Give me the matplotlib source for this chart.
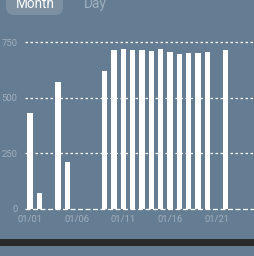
import matplotlib
matplotlib.use("Agg")
import matplotlib.pyplot as plt
from matplotlib.patches import FancyBboxPatch

days = list(range(1, 23))
values = [430, 73, 0, 570, 211, 0, 0, 0, 621, 714, 720, 712, 715, 709, 717, 706, 695, 699, 701, 706, 0, 715]
tick_days = [1, 6, 11, 16, 21]
tick_labels = ["01/01", "01/06", "01/11", "01/16", "01/21"]
y_ticks = [0, 250, 500, 750]

W, H = 255, 256
BG = "#657d92"
fig = plt.figure(figsize=(W / 100, H / 100), dpi=100)
fig.patch.set_facecolor(BG)

# top toggle
bg_ax = fig.add_axes([0, 0, 1, 1])
bg_ax.set_xlim(0, W)
bg_ax.set_ylim(H, 0)
bg_ax.axis("off")
bg_ax.add_patch(FancyBboxPatch((6, -10), 57, 25, boxstyle="round,pad=0,rounding_size=8",
                               facecolor="#7c90a2", edgecolor="none"))
bg_ax.text(35, 4, "Month", color="white", fontsize=9.8, ha="center", va="center", family="Roboto")
bg_ax.text(95, 4, "Day", color="#9fb0bf", fontsize=9.8, ha="center", va="center", family="Roboto")
bg_ax.add_patch(plt.Rectangle((0, 239), W, 7, facecolor="#2a2a2a", edgecolor="none"))

# chart axes: x pixel 25..255, y pixel 42 (750) .. 209 (0)
left, right = 25, 255
top, bottom = 42, 209
ax = fig.add_axes([left / W, 1 - bottom / H, (right - left) / W, (bottom - top) / H])
ax.set_facecolor("none")
px_per_day = 9.33
ax.set_xlim(1 - (30 - left) / px_per_day, 1 + (right - 30) / px_per_day)
ax.set_ylim(0, 750)
for s in ax.spines.values():
    s.set_visible(False)

for yv in y_ticks:
    ax.axhline(yv, color="white", lw=0.9, linestyle=(0, (2, 2)) if yv else (0, (4, 2)), zorder=1,
               clip_on=False)

ax.bar(days, values, width=0.55, color="white", zorder=2, clip_on=False)

ax.set_xticks(tick_days)
ax.set_xticklabels(tick_labels)
ax.set_yticks(y_ticks)
ax.set_yticklabels([str(v) for v in y_ticks])
ax.tick_params(axis="both", length=0, colors="#9fb0bf", labelsize=6.8)
ax.tick_params(axis="x", pad=4)
ax.tick_params(axis="y", pad=5.5)
for lab in ax.get_xticklabels() + ax.get_yticklabels():
    lab.set_family("Roboto")

fig.savefig("out.png", dpi=100, facecolor=BG)
